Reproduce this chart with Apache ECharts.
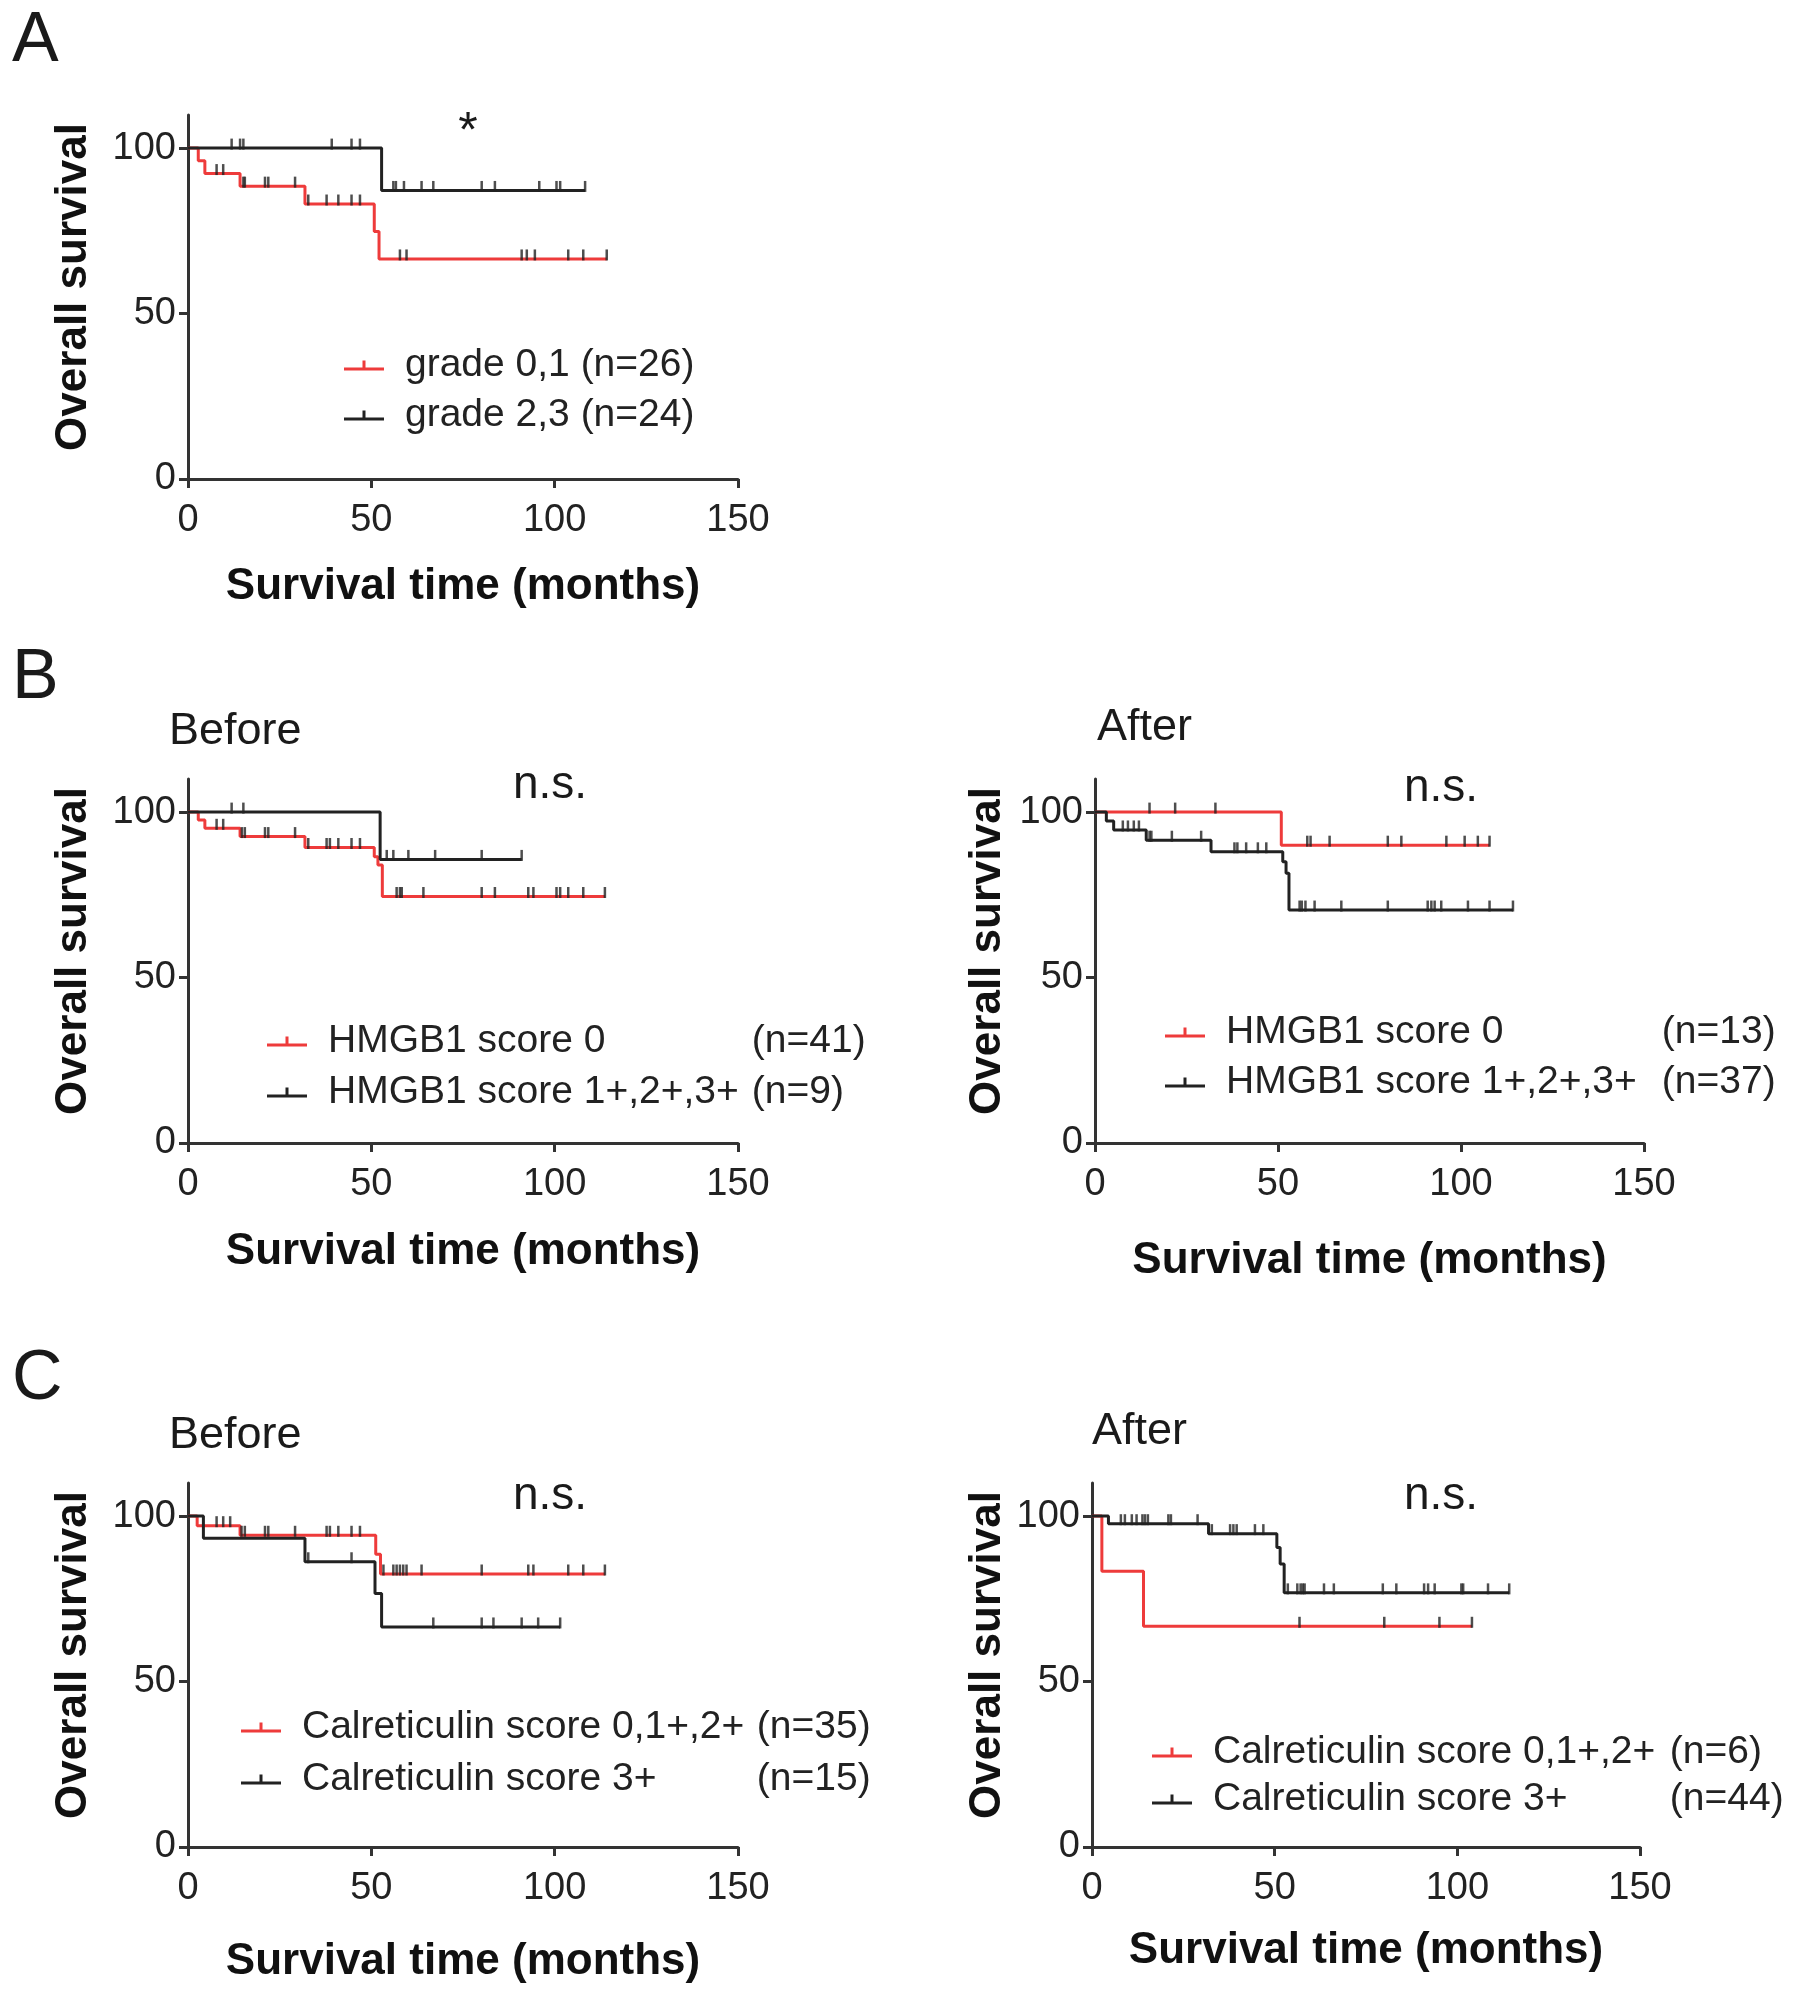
<!DOCTYPE html>
<html>
<head>
<meta charset="utf-8">
<script src="https://cdn.jsdelivr.net/npm/echarts@6/dist/echarts.min.js"></script>
<style>
html,body{margin:0;padding:0;background:#fff;}
#chart{width:1795px;height:1996px;}
</style>
</head>
<body>
<div id="chart"></div>
<script>
// ---------------- DATA ----------------
const xTicks = [0, 50, 100, 150];
const yTicks = [0, 50, 100];

// Panel A
const aRedTimes = [0, 2.8, 4.6, 14.2, 31.9, 50.8, 52.1, 114.2];
const aRedSurv  = [100, 96.2, 92.3, 88.5, 83.1, 74.8, 66.5, 66.5];
const aRedCensor = [7.8, 9.6, 15.1, 15.5, 21.0, 21.9, 29.2, 32.8, 37.8, 41.0, 44.6, 46.9, 57.8, 59.6, 91.0, 92.4, 94.6, 103.7, 107.8, 114.2];
const aBlackTimes = [0, 52.8, 108.3];
const aBlackSurv  = [100, 87.2, 87.2];
const aBlackCensor = [11.9, 14.2, 15.1, 39.2, 44.6, 46.9, 56.0, 56.7, 58.9, 63.7, 66.9, 80.1, 83.7, 95.8, 100.5, 101.5, 108.3];

// Panel B Before
const bbRedTimes = [0, 2.8, 4.6, 14.2, 31.9, 50.8, 51.8, 53.0, 113.7];
const bbRedSurv  = [100, 97.6, 95.1, 92.6, 89.3, 86.5, 84.0, 74.5, 74.5];
const bbRedCensor = [7.8, 9.6, 14.7, 15.5, 21.0, 21.9, 29.2, 32.8, 37.8, 38.7, 41.0, 44.6, 46.9, 56.9, 57.8, 58.3, 64.2, 80.1, 83.7, 92.8, 94.2, 100.5, 101.5, 103.7, 107.8, 113.7];
const bbBlackTimes = [0, 52.4, 91.0];
const bbBlackSurv  = [100, 85.7, 85.7];
const bbBlackCensor = [11.9, 15.1, 54.2, 56.0, 60.1, 67.4, 80.1, 91.0];

// Panel B After
const baRedTimes = [0, 50.9, 107.8];
const baRedSurv  = [100, 90.0, 90.0];
const baRedCensor = [14.9, 21.9, 32.9, 58.0, 58.9, 64.1, 80.0, 83.7, 96.0, 101.0, 104.6, 107.8];
const baBlackTimes = [0, 3.1, 5.1, 14.0, 31.7, 51.3, 52.2, 53.0, 114.2];
const baBlackSurv  = [100, 97.3, 94.6, 91.5, 88.0, 85.0, 81.5, 70.4, 70.4];
const baBlackCensor = [7.6, 9.0, 10.6, 12.0, 14.9, 15.4, 21.0, 29.0, 38.1, 38.9, 41.3, 44.5, 46.8, 55.9, 56.5, 57.5, 60.0, 67.3, 80.0, 90.9, 91.9, 92.8, 94.6, 101.9, 107.8, 114.2];

// Panel C Before
const cbRedTimes = [0, 2.5, 14.2, 51.2, 52.5, 113.7];
const cbRedSurv  = [100, 97.1, 94.2, 88.5, 82.5, 82.5];
const cbRedCensor = [7.8, 9.6, 11.5, 14.6, 15.5, 21.0, 21.9, 29.2, 37.8, 38.7, 41.0, 44.6, 46.9, 53.3, 56.0, 56.9, 57.8, 58.7, 59.6, 63.7, 80.1, 92.8, 94.2, 103.7, 107.8, 113.7];
const cbBlackTimes = [0, 4.2, 31.9, 51.0, 52.8, 101.5];
const cbBlackSurv  = [100, 93.3, 86.2, 76.6, 66.5, 66.5];
const cbBlackCensor = [32.8, 44.6, 66.9, 80.1, 83.3, 91.0, 95.5, 101.5];

// Panel C After
const caRedTimes = [0, 2.7, 14.1, 104.0];
const caRedSurv  = [100, 83.3, 66.7, 66.7];
const caRedCensor = [56.8, 80.0, 95.1, 104.0];
const caBlackTimes = [0, 4.5, 31.9, 50.6, 51.5, 52.6, 114.2];
const caBlackSurv  = [100, 97.7, 94.7, 90.5, 85.5, 76.8, 76.8];
const caBlackCensor = [7.9, 9.0, 10.9, 12.2, 13.8, 14.5, 15.3, 20.9, 21.6, 28.9, 32.8, 37.8, 38.7, 39.6, 44.6, 46.9, 53.6, 56.2, 57.1, 57.7, 58.2, 63.5, 66.2, 79.6, 83.3, 90.9, 92.0, 93.8, 101.1, 101.6, 108.4, 114.2];

// Legend labels
const aLabels  = ['grade 0,1', 'grade 2,3'];
const aCounts  = ['(n=26)', '(n=24)'];
const bbLabels = ['HMGB1 score 0', 'HMGB1 score 1+,2+,3+'];
const bbCounts = ['(n=41)', '(n=9)'];
const baLabels = ['HMGB1 score 0', 'HMGB1 score 1+,2+,3+'];
const baCounts = ['(n=13)', '(n=37)'];
const cbLabels = ['Calreticulin score 0,1+,2+', 'Calreticulin score 3+'];
const cbCounts = ['(n=35)', '(n=15)'];
const caLabels = ['Calreticulin score 0,1+,2+', 'Calreticulin score 3+'];
const caCounts = ['(n=6)', '(n=44)'];

// ---------------- STYLE / LAYOUT ----------------
const FONT = '"Liberation Sans", Arial, Helvetica, sans-serif';
const RED = '#ee3b3b';
const BLACK = '#222222';
const AXIS = '#333333';
const LEG_FS = 39;

const panels = [
  { id: 'A', grid: {left: 188, top: 115, width: 550, height: 364},
    red: [aRedTimes, aRedSurv, aRedCensor], black: [aBlackTimes, aBlackSurv, aBlackCensor],
    labels: aLabels, counts: aCounts, legend: {left: 344, top: 346, gap: 11, nameWidth: 0},
    xGap: 86, yGap: 92 },
  { id: 'BB', grid: {left: 188, top: 779, width: 550, height: 364},
    red: [bbRedTimes, bbRedSurv, bbRedCensor], black: [bbBlackTimes, bbBlackSurv, bbBlackCensor],
    labels: bbLabels, counts: bbCounts, legend: {left: 267, top: 1022, gap: 12, nameWidth: 413},
    xGap: 87, yGap: 92 },
  { id: 'BA', grid: {left: 1095, top: 779, width: 549, height: 364},
    red: [baRedTimes, baRedSurv, baRedCensor], black: [baBlackTimes, baBlackSurv, baBlackCensor],
    labels: baLabels, counts: baCounts, legend: {left: 1165, top: 1013, gap: 11, nameWidth: 425},
    xGap: 96, yGap: 85 },
  { id: 'CB', grid: {left: 188, top: 1483, width: 550, height: 364},
    red: [cbRedTimes, cbRedSurv, cbRedCensor], black: [cbBlackTimes, cbBlackSurv, cbBlackCensor],
    labels: cbLabels, counts: cbCounts, legend: {left: 241, top: 1708, gap: 13, nameWidth: 444},
    xGap: 93, yGap: 92 },
  { id: 'CA', grid: {left: 1092, top: 1483, width: 548, height: 364},
    red: [caRedTimes, caRedSurv, caRedCensor], black: [caBlackTimes, caBlackSurv, caBlackCensor],
    labels: caLabels, counts: caCounts, legend: {left: 1152, top: 1733, gap: 8, nameWidth: 446},
    xGap: 82, yGap: 82 }
];

function survAt(times, surv, t) {
  let v = surv[0];
  for (let i = 0; i < times.length; i++) if (times[i] <= t) v = surv[i];
  return v;
}

const grids = [], xAxes = [], yAxes = [], series = [], legends = [];

const legendIcon = 'path://M0,8 L40,8 L40,11 L0,11 Z M18.5,1 L21.5,1 L21.5,8 L18.5,8 Z';

panels.forEach((p, i) => {
  grids.push(Object.assign({outerBoundsMode: 'none', containLabel: false}, p.grid));
  xAxes.push({
    gridIndex: i, type: 'value', min: 0, max: 150, interval: 50,
    name: 'Survival time (months)', nameLocation: 'middle', nameGap: p.xGap,
    nameTextStyle: {fontFamily: FONT, fontSize: 44, fontWeight: 'bold', color: '#111'},
    axisLine: {show: true, onZero: false, lineStyle: {color: AXIS, width: 3}},
    axisTick: {show: true, length: 9, lineStyle: {color: AXIS, width: 3}},
    axisLabel: {fontFamily: FONT, fontSize: 38, color: '#222', margin: 23},
    splitLine: {show: false}
  });
  yAxes.push({
    gridIndex: i, type: 'value', min: 0, max: 110,
    name: 'Overall survival', nameLocation: 'middle', nameGap: p.yGap, nameRotate: 90,
    nameTextStyle: {fontFamily: FONT, fontSize: 44, fontWeight: 'bold', color: '#111', padding: [0, 0, 0, 20]},
    axisLine: {show: true, onZero: false, lineStyle: {color: AXIS, width: 3}},
    axisTick: {show: true, length: 9, customValues: yTicks, lineStyle: {color: AXIS, width: 3}},
    axisLabel: {fontFamily: FONT, fontSize: 38, color: '#222', margin: 12, customValues: yTicks},
    splitLine: {show: false}
  });
  const names = p.labels.map((l, k) => l + ' ' + p.counts[k]);
  [[p.red, RED, names[0]], [p.black, BLACK, names[1]]].forEach(([d, col, nm]) => {
    const [times, surv, cens] = d;
    series.push({
      name: nm, type: 'line', step: 'end', xAxisIndex: i, yAxisIndex: i,
      data: times.map((t, k) => [t, surv[k]]),
      showSymbol: false, symbol: 'none', lineStyle: {color: col, width: 3}, itemStyle: {color: col},
      z: col === RED ? 2 : 3, silent: true, animation: false
    });
    series.push({
      name: p.id + ' ' + nm + ' censored', type: 'scatter', xAxisIndex: i, yAxisIndex: i,
      data: cens.map(t => [t, survAt(times, surv, t)]),
      symbol: 'rect', symbolSize: [2.5, 11], symbolOffset: [0, -4],
      itemStyle: {color: BLACK}, z: 4, silent: true, animation: false
    });
  });
  const nw = p.legend.nameWidth;
  legends.push({
    data: [{name: names[0], itemStyle: {color: RED}}, {name: names[1], itemStyle: {color: BLACK}}],
    orient: 'vertical', left: p.legend.left, top: p.legend.top,
    itemWidth: 40, itemHeight: 11, itemGap: p.legend.gap, icon: legendIcon,
    selectedMode: false, padding: 0,
    formatter: function (name) {
      const idx = name.lastIndexOf(' (');
      return '{a|' + name.slice(0, idx) + '}{b|\u00a0' + name.slice(idx + 1) + '}';
    },
    textStyle: {
      fontFamily: FONT, fontSize: LEG_FS, color: '#222', padding: [0, 0, 0, 16],
      rich: {
        a: Object.assign({fontFamily: FONT, fontSize: LEG_FS, color: '#222'}, nw ? {width: nw} : {}),
        b: {fontFamily: FONT, fontSize: LEG_FS, color: '#222'}
      }
    }
  });
});

function txt(text, x, y, size, opts) {
  return Object.assign({
    type: 'text', x: x, y: y, silent: true,
    style: Object.assign({text: text, font: (opts && opts.weight || 'normal') + ' ' + size + 'px ' + FONT,
      fill: '#1a1a1a', textAlign: 'left', textVerticalAlign: 'middle'}, opts && opts.style || {})
  });
}

const graphics = [
  txt('A', 12, 42, 70),
  txt('B', 12, 679, 70),
  txt('C', 12, 1380, 70),
  txt('Before', 169, 732, 45),
  txt('After', 1097, 728, 45),
  txt('Before', 169, 1436, 45),
  txt('After', 1092, 1432, 45),
  txt('*', 468, 133, 50, {style: {textAlign: 'center'}}),
  txt('n.s.', 550, 785, 46, {style: {textAlign: 'center'}}),
  txt('n.s.', 1441, 788, 46, {style: {textAlign: 'center'}}),
  txt('n.s.', 550, 1496, 46, {style: {textAlign: 'center'}}),
  txt('n.s.', 1441, 1496, 46, {style: {textAlign: 'center'}})
];

const chart = echarts.init(document.getElementById('chart'), null, {renderer: 'canvas'});
chart.setOption({
  backgroundColor: '#ffffff',
  animation: false,
  grid: grids, xAxis: xAxes, yAxis: yAxes, series: series, legend: legends,
  graphic: {elements: graphics}
});
</script>
</body>
</html>
